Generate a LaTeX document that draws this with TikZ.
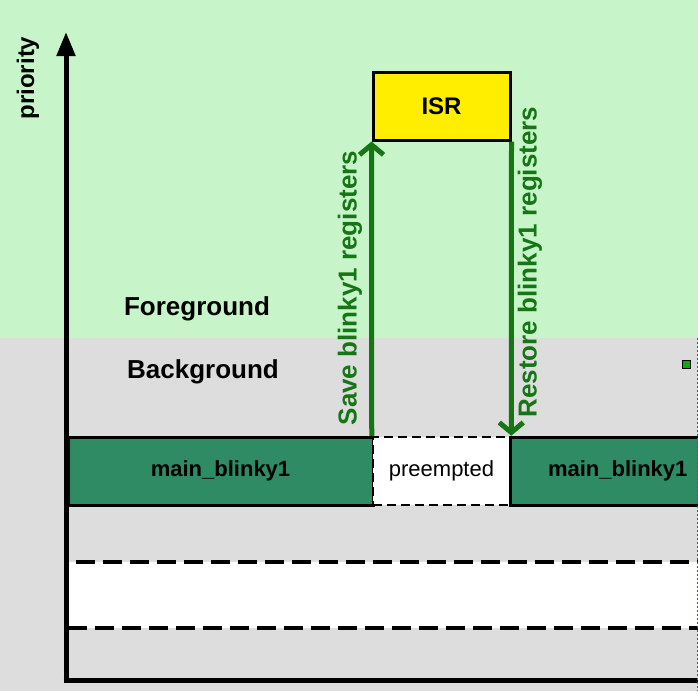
\documentclass[tikz,border=0pt]{standalone}
\usepackage{fontspec}
\setmainfont{Liberation Sans}
\usetikzlibrary{arrows.meta}
\definecolor{fgbg}{RGB}{199,245,201}
\definecolor{bgbg}{RGB}{221,221,221}
\definecolor{taskgreen}{RGB}{46,139,100}
\definecolor{arrgreen}{RGB}{22,118,22}
\definecolor{isryellow}{RGB}{255,238,0}
\begin{document}
\begin{tikzpicture}[x=1pt,y=-1pt,
  task/.style={draw=black,line width=3pt,fill=taskgreen,minimum height=68pt,inner sep=0pt,
    font=\fontsize{22}{26}\selectfont\bfseries},
  prebox/.style={draw=black,dashed,dash pattern=on 9pt off 5pt,line width=2.5pt,fill=white,minimum height=68pt,inner sep=0pt,
    font=\fontsize{22}{26}\selectfont},
  isrbox/.style={draw=black,line width=3pt,fill=isryellow,minimum height=68pt,inner sep=0pt,
    font=\fontsize{24}{28}\selectfont\bfseries},
  saverr/.style={draw=arrgreen,line width=5pt,-{Straight Barb[length=10pt,width=24pt,line width=5pt]}},
  arrlabel/.style={text=arrgreen,rotate=90,font=\fontsize{26}{30}\selectfont\bfseries,inner sep=0pt},
  zone/.style={font=\fontsize{26}{30}\selectfont\bfseries,inner sep=0pt},
  dashline/.style={line width=3.2pt,dash pattern=on 19pt off 8pt},
  axis/.style={line width=5pt}
]
\useasboundingbox (0,0) rectangle (698,691);
% backgrounds
\fill[fgbg] (0,0) rectangle (698,338);
\fill[bgbg] (0,338) rectangle (698,691);
\fill[white] (68,562) rectangle (698,628);
\draw[dashline] (76,562) -- (698,562);
\draw[dashline] (68,628) -- (698,628);
% zone labels
\node[zone] (fg) at (197,309) {Foreground};
\node[zone] (bg) at (203,372) {Background};
% tasks
\node[task,minimum width=305pt] (main1) at (220.5,471) {main\_blinky1};
\node[prebox,minimum width=137pt] (pre) at (441.5,471) {preempted};
\node[task,minimum width=200pt,text width=180pt,align=left] (main2) at (610,471) {\hspace*{28pt}main\_blinky1};
\node[isrbox,minimum width=137pt] (isr) at (441.5,106) {ISR};
% arrows
\draw[saverr] (pre.north west) -- (isr.south west);
\draw[saverr] (isr.south east) -- (pre.north east);
\node[arrlabel] (savelbl) at (350,288) {Save blinky1 registers};
\node[arrlabel] (restlbl) at (530,262) {Restore blinky1 registers};
% axis
\coordinate (origin) at (66,680);
\coordinate (ytop) at (66,32);
\coordinate (xend) at (700,680);
\draw[axis,-{Triangle[length=24pt,width=18pt]}] (origin) -- (ytop);
\draw[axis] (63.5,680) -- (xend);
\node[rotate=90,font=\fontsize{24}{28}\selectfont\bfseries,inner sep=0pt] (prio) at (28,78) {priority};
% selection marker at right edge
\node[draw=black,line width=1pt,fill=green!70!black,minimum size=8pt,inner sep=0pt] (mark) at (686,364) {};
\draw[green!60!black,line width=0.6pt,dash pattern=on 2pt off 2pt] (697,338) -- (697,691);
\end{tikzpicture}
\end{document}
